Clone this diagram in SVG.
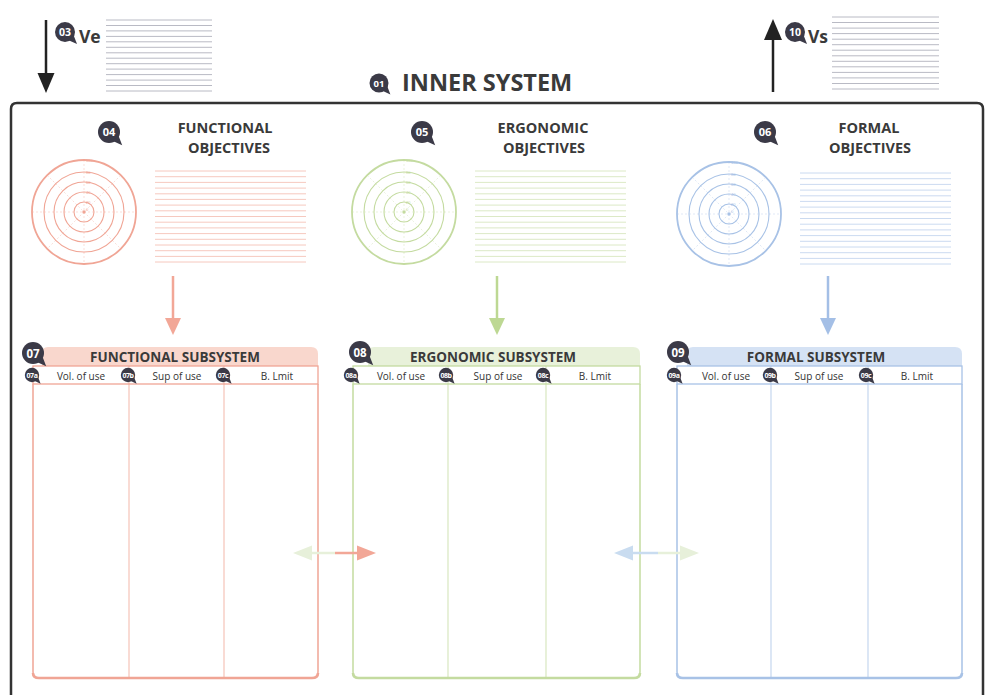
<svg xmlns="http://www.w3.org/2000/svg" xmlns:xlink="http://www.w3.org/1999/xlink" width="990" height="695" viewBox="0 0 990 695">
<style>
.t{font-family:"Open Sans","Liberation Sans",sans-serif;font-weight:bold;fill:#3a3a3a}
.bt{font-family:"Open Sans","Liberation Sans",sans-serif;font-weight:bold;fill:#fff;text-anchor:middle}
.col{font-family:"Open Sans","Liberation Sans",sans-serif;font-size:10px;fill:#333;text-anchor:middle}
.lbl{font-family:"Liberation Sans",sans-serif;font-size:4px;text-anchor:start}
.bub{fill:#3b3a47}
.gl{stroke:#b9bac4;stroke-width:1;fill:none}
.red{stroke:#f0a595}
.grn{stroke:#c4dba0}
.blu{stroke:#a8c2e6}
.ring{fill:none;stroke-width:1.1}
.outer{fill:none;stroke-width:1.8}
.spoke{fill:none;stroke-width:0.6;stroke-dasharray:2 2;opacity:0.6}
.lines{fill:none;stroke-width:1;opacity:0.6}
.box{fill:none;stroke-width:1.5}
.div{fill:none;stroke-width:1}
.bot{fill:none;stroke-width:2.6}
</style>
<defs>
<g id="bubble"><circle r="10"/><path d="M3,8 L12,12 L8.5,3 Z"/></g>
</defs>

<!-- main frame -->
<g id="inner-system">
<path d="M11,705 V109 Q11,103 17,103 H977 Q983,103 983,109 V705" fill="none" stroke="#333" stroke-width="2.5"/>
<use href="#bubble" class="bub" transform="translate(379,83) scale(0.95)"/>
<text class="bt" x="379" y="86.5" font-size="9.5">01</text>
<text class="t" x="402" y="91" font-size="23.5">INNER SYSTEM</text>
</g>

<!-- Ve -->
<g id="ve">
<path d="M46,20 V76" stroke="#222" stroke-width="2.5"/>
<polygon points="37.5,73 54.5,73 46,93" fill="#222"/>
<use href="#bubble" class="bub" transform="translate(65,32)"/>
<text class="bt" x="65" y="36" font-size="10.5">03</text>
<text class="t" x="79" y="43" font-size="17.5">Ve</text>
<path class="gl" d="M106,20H212M106,25.5H212M106,30.9H212M106,36.4H212M106,41.8H212M106,47.3H212M106,52.8H212M106,58.2H212M106,63.7H212M106,69.1H212M106,74.6H212M106,80.1H212M106,85.5H212M106,91H212"/>
</g>

<!-- Vs -->
<g id="vs">
<path d="M773,92 V36" stroke="#222" stroke-width="2.5"/>
<polygon points="764,40 782,40 773,19" fill="#222"/>
<use href="#bubble" class="bub" transform="translate(795,32)"/>
<text class="bt" x="795" y="36" font-size="10.5">10</text>
<text class="t" x="808" y="43" font-size="17.5">Vs</text>
<path class="gl" d="M832,17H939M832,22.5H939M832,28.1H939M832,33.6H939M832,39.2H939M832,44.7H939M832,50.2H939M832,55.8H939M832,61.3H939M832,66.8H939M832,72.4H939M832,77.9H939M832,83.5H939M832,89H939"/>
</g>

<!-- Functional objectives -->
<g id="functional-objectives">
<use href="#bubble" class="bub" transform="translate(109,132) scale(1.1)"/>
<text class="bt" x="109" y="136" font-size="11">04</text>
<text class="t" x="225" y="133" font-size="14.5" text-anchor="middle">FUNCTIONAL</text>
<text class="t" x="229" y="153" font-size="14.5" text-anchor="middle">OBJECTIVES</text>
<g class="red">
<path class="spoke" d="M32,212H136M84,160V264M47.2,175.2L120.8,248.8M120.8,175.2L47.2,248.8"/>
<circle class="ring" cx="84" cy="212" r="10"/>
<circle class="ring" cx="84" cy="212" r="20"/>
<circle class="ring" cx="84" cy="212" r="30"/>
<circle class="ring" cx="84" cy="212" r="40"/>
<circle class="outer" cx="84" cy="212" r="52"/>
<circle cx="84" cy="212" r="1.2" fill="#f0a595"/>
<path class="lines" d="M155,171H306M155,176.7H306M155,182.4H306M155,188.1H306M155,193.8H306M155,199.4H306M155,205.1H306M155,210.8H306M155,216.5H306M155,222.2H306M155,227.9H306M155,233.6H306M155,239.3H306M155,245H306M155,250.7H306M155,256.4H306M155,262H306"/>
</g>
<g class="lbl" fill="#f0a595"><text x="86" y="162">100</text><text x="86" y="174">80</text><text x="86" y="184">60</text><text x="86" y="194">40</text><text x="86" y="204">20</text><text x="86" y="211">0</text></g>
</g>

<!-- Ergonomic objectives -->
<g id="ergonomic-objectives">
<use href="#bubble" class="bub" transform="translate(422,132) scale(1.1)"/>
<text class="bt" x="422" y="136" font-size="11">05</text>
<text class="t" x="543" y="133" font-size="14.5" text-anchor="middle">ERGONOMIC</text>
<text class="t" x="544" y="153" font-size="14.5" text-anchor="middle">OBJECTIVES</text>
<g class="grn">
<path class="spoke" d="M352,212H456M404,160V264M367.2,175.2L440.8,248.8M440.8,175.2L367.2,248.8"/>
<circle class="ring" cx="404" cy="212" r="10"/>
<circle class="ring" cx="404" cy="212" r="20"/>
<circle class="ring" cx="404" cy="212" r="30"/>
<circle class="ring" cx="404" cy="212" r="40"/>
<circle class="outer" cx="404" cy="212" r="52"/>
<circle cx="404" cy="212" r="1.2" fill="#c4dba0"/>
<path class="lines" d="M475,171H626M475,176.7H626M475,182.4H626M475,188.1H626M475,193.8H626M475,199.4H626M475,205.1H626M475,210.8H626M475,216.5H626M475,222.2H626M475,227.9H626M475,233.6H626M475,239.3H626M475,245H626M475,250.7H626M475,256.4H626M475,262H626"/>
</g>
<g class="lbl" fill="#c4dba0"><text x="406" y="162">100</text><text x="406" y="174">80</text><text x="406" y="184">60</text><text x="406" y="194">40</text><text x="406" y="204">20</text><text x="406" y="211">0</text></g>
</g>

<!-- Formal objectives -->
<g id="formal-objectives">
<use href="#bubble" class="bub" transform="translate(765,132) scale(1.1)"/>
<text class="bt" x="765" y="136" font-size="11">06</text>
<text class="t" x="869" y="133" font-size="14.5" text-anchor="middle">FORMAL</text>
<text class="t" x="870" y="153" font-size="14.5" text-anchor="middle">OBJECTIVES</text>
<g class="blu">
<path class="spoke" d="M677,214H781M729,162V266M692.2,177.2L765.8,250.8M765.8,177.2L692.2,250.8"/>
<circle class="ring" cx="729" cy="214" r="10"/>
<circle class="ring" cx="729" cy="214" r="20"/>
<circle class="ring" cx="729" cy="214" r="30"/>
<circle class="ring" cx="729" cy="214" r="40"/>
<circle class="outer" cx="729" cy="214" r="52"/>
<circle cx="729" cy="214" r="1.2" fill="#a8c2e6"/>
<path class="lines" d="M800,173H951M800,178.7H951M800,184.4H951M800,190.1H951M800,195.8H951M800,201.4H951M800,207.1H951M800,212.8H951M800,218.5H951M800,224.2H951M800,229.9H951M800,235.6H951M800,241.3H951M800,247H951M800,252.7H951M800,258.4H951M800,264H951"/>
</g>
<g class="lbl" fill="#a8c2e6"><text x="731" y="164">100</text><text x="731" y="176">80</text><text x="731" y="186">60</text><text x="731" y="196">40</text><text x="731" y="206">20</text><text x="731" y="213">0</text></g>
</g>

<!-- Functional subsystem -->
<g id="functional-subsystem">
<path d="M42,366 V353 Q42,347 48,347 H311 Q318,347 318,354 V366 Z" fill="#f9d7cd"/>
<g class="red">
<rect x="33" y="366" width="285" height="18" fill="#fff" stroke-width="1.3"/>
<path class="box" d="M33,384 V672 Q33,678 39,678 H312 Q318,678 318,672 V384"/>
<path class="bot" d="M33,673 Q33,678 39,678 H312 Q318,678 318,673"/>
<path class="div" d="M129,366V678M224,366V678" opacity="0.8"/>
</g>
<use href="#bubble" class="bub" transform="translate(33,353) scale(1.1)"/>
<text class="bt" x="33" y="357.5" font-size="11.5">07</text>
<text class="t" x="175" y="361.5" font-size="13.5" text-anchor="middle">FUNCTIONAL SUBSYSTEM</text>
<use href="#bubble" class="bub" transform="translate(32,375) scale(0.72)"/>
<text class="bt" x="32" y="377.8" font-size="7" letter-spacing="-0.4">07a</text>
<use href="#bubble" class="bub" transform="translate(128,375) scale(0.72)"/>
<text class="bt" x="128" y="377.8" font-size="7" letter-spacing="-0.4">07b</text>
<use href="#bubble" class="bub" transform="translate(223,375) scale(0.72)"/>
<text class="bt" x="223" y="377.8" font-size="7" letter-spacing="-0.4">07c</text>
<text class="col" x="81" y="379.5">Vol. of use</text>
<text class="col" x="177" y="379.5">Sup of use</text>
<text class="col" x="277" y="379.5">B. Lmit</text>
</g>

<!-- Ergonomic subsystem -->
<g id="ergonomic-subsystem">
<path d="M368,366 V353 Q368,347 374,347 H633 Q640,347 640,354 V366 Z" fill="#e8f1da"/>
<g class="grn">
<rect x="353" y="366" width="287" height="18" fill="#fff" stroke-width="1.3"/>
<path class="box" d="M353,384 V672 Q353,678 359,678 H634 Q640,678 640,672 V384"/>
<path class="bot" d="M353,673 Q353,678 359,678 H634 Q640,678 640,673"/>
<path class="div" d="M448,366V678M546,366V678" opacity="0.8"/>
</g>
<use href="#bubble" class="bub" transform="translate(360,352) scale(1.1)"/>
<text class="bt" x="360" y="356.5" font-size="11.5">08</text>
<text class="t" x="493" y="361.5" font-size="13.5" text-anchor="middle">ERGONOMIC SUBSYSTEM</text>
<use href="#bubble" class="bub" transform="translate(351,375) scale(0.72)"/>
<text class="bt" x="351" y="377.8" font-size="7" letter-spacing="-0.4">08a</text>
<use href="#bubble" class="bub" transform="translate(446,375) scale(0.72)"/>
<text class="bt" x="446" y="377.8" font-size="7" letter-spacing="-0.4">08b</text>
<use href="#bubble" class="bub" transform="translate(543,375) scale(0.72)"/>
<text class="bt" x="543" y="377.8" font-size="7" letter-spacing="-0.4">08c</text>
<text class="col" x="401" y="379.5">Vol. of use</text>
<text class="col" x="498" y="379.5">Sup of use</text>
<text class="col" x="595" y="379.5">B. Lmit</text>
</g>

<!-- Formal subsystem -->
<g id="formal-subsystem">
<path d="M687,366 V353 Q687,347 693,347 H955 Q962,347 962,354 V366 Z" fill="#d5e2f4"/>
<g class="blu">
<rect x="677" y="366" width="285" height="18" fill="#fff" stroke-width="1.3"/>
<path class="box" d="M677,384 V672 Q677,678 683,678 H956 Q962,678 962,672 V384"/>
<path class="bot" d="M677,673 Q677,678 683,678 H956 Q962,678 962,673"/>
<path class="div" d="M771,366V678M868,366V678" opacity="0.8"/>
</g>
<use href="#bubble" class="bub" transform="translate(678,352) scale(1.1)"/>
<text class="bt" x="678" y="356.5" font-size="11.5">09</text>
<text class="t" x="816" y="361.5" font-size="13.5" text-anchor="middle">FORMAL SUBSYSTEM</text>
<use href="#bubble" class="bub" transform="translate(674,375) scale(0.72)"/>
<text class="bt" x="674" y="377.8" font-size="7" letter-spacing="-0.4">09a</text>
<use href="#bubble" class="bub" transform="translate(770,375) scale(0.72)"/>
<text class="bt" x="770" y="377.8" font-size="7" letter-spacing="-0.4">09b</text>
<use href="#bubble" class="bub" transform="translate(866,375) scale(0.72)"/>
<text class="bt" x="866" y="377.8" font-size="7" letter-spacing="-0.4">09c</text>
<text class="col" x="726" y="379.5">Vol. of use</text>
<text class="col" x="819" y="379.5">Sup of use</text>
<text class="col" x="917" y="379.5">B. Lmit</text>
</g>

<!-- connectors -->
<g id="connectors">
<path d="M173,276 V320" stroke="#f2a797" stroke-width="2.5"/>
<polygon points="165,318 181,318 173,335" fill="#f2a797"/>
<path d="M497,276 V320" stroke="#bdd893" stroke-width="2.5"/>
<polygon points="489,318 505,318 497,335" fill="#bdd893"/>
<path d="M828,276 V320" stroke="#a4bfe6" stroke-width="2.5"/>
<polygon points="820,318 836,318 828,335" fill="#a4bfe6"/>
<path d="M310,553 H335" stroke="#e7f0da" stroke-width="2.5"/>
<polygon points="293,553 312,545.5 312,560.5" fill="#e7f0da"/>
<path d="M335,553 H360" stroke="#f2a797" stroke-width="2.5"/>
<polygon points="376,553 357,545.5 357,560.5" fill="#f2a797"/>
<path d="M632,553 H658" stroke="#c9dcf0" stroke-width="2.5"/>
<polygon points="614,553 633,545.5 633,560.5" fill="#c9dcf0"/>
<path d="M658,553 H682" stroke="#e7f0da" stroke-width="2.5"/>
<polygon points="699,553 680,545.5 680,560.5" fill="#e7f0da"/>
</g>
</svg>
